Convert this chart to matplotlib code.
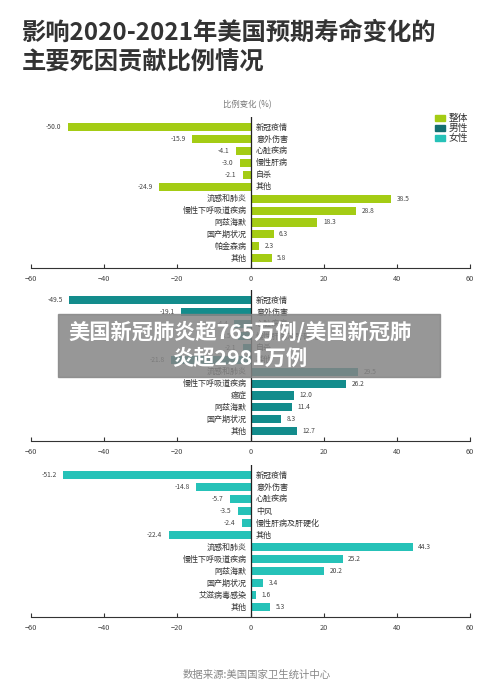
import matplotlib
matplotlib.use("Agg")
import matplotlib.pyplot as plt
from matplotlib.patches import Rectangle

plt.rcParams['font.family'] = ['Noto Sans CJK SC', 'DejaVu Sans']

# data
cats_all = ["新冠疫情", "意外伤害", "心脏疾病", "慢性肝病", "自杀", "其他",
            "流感和肺炎", "慢性下呼吸道疾病", "阿兹海默", "国产期状况", "帕金森病", "其他"]
vals_all = [-50.0, -15.9, -4.1, -3.0, -2.1, -24.9, 38.5, 28.8, 18.3, 6.3, 2.3, 5.8]

cats_male = ["新冠疫情", "意外伤害", "心脏疾病", "慢性肝病及肝硬化", "自杀", "其他",
             "流感和肺炎", "慢性下呼吸道疾病", "癌症", "阿兹海默", "国产期状况", "其他"]
vals_male = [-49.5, -19.1, -4.4, -3.5, -2.1, -21.8, 29.5, 26.2, 12.0, 11.4, 8.3, 12.7]

cats_female = ["新冠疫情", "意外伤害", "心脏疾病", "中风", "慢性肝病及肝硬化", "其他",
               "流感和肺炎", "慢性下呼吸道疾病", "阿兹海默", "国产期状况", "艾滋病毒感染", "其他"]
vals_female = [-51.2, -14.8, -5.7, -3.5, -2.4, -22.4, 44.3, 25.2, 20.2, 3.4, 1.6, 5.3]

legend_names = ["整体", "男性", "女性"]
legend_colors = ["#a4cc14", "#136f70", "#26c2b8"]
bar_colors = ["#a4cc14", "#138c8c", "#26c2b8"]
xticks = [-60, -40, -20, 0, 20, 40, 60]

W, H = 500, 692
fig = plt.figure(figsize=(W / 100, H / 100), dpi=100)

def px_axes(left, top, right, bottom):
    return fig.add_axes([left / W, 1 - bottom / H, (right - left) / W, (bottom - top) / H])

def draw_panel(top, bottom, cats, vals, color):
    ax = px_axes(31, top, 470, bottom)
    n = len(cats)
    ys = list(range(n))
    ax.barh(ys, vals, height=0.68, color=color, zorder=2)
    ax.set_xlim(-60, 60)
    ax.set_ylim(n - 1 + 0.82, -0.85)
    ax.axvline(0, color="#222222", lw=0.9, zorder=3)
    for s in ["top", "right", "left"]:
        ax.spines[s].set_visible(False)
    ax.spines["bottom"].set_color("#333333")
    ax.spines["bottom"].set_linewidth(0.8)
    ax.set_yticks([])
    ax.set_xticks(xticks)
    ax.tick_params(axis="x", direction="in", length=3, width=0.8, color="#333333",
                   labelsize=5.3, labelcolor="#444444", pad=5)
    for y, c, v in zip(ys, cats, vals):
        if v < 0:
            ax.annotate(c, (0, y), xytext=(4, 0), textcoords="offset points",
                        ha="left", va="center", fontsize=5.8, color="#333333")
            ax.annotate(f"{v:.1f}", (v, y), xytext=(-4.5, 0), textcoords="offset points",
                        ha="right", va="center", fontsize=4.8, color="#444444")
        else:
            ax.annotate(c, (0, y), xytext=(-3, 0), textcoords="offset points",
                        ha="right", va="center", fontsize=5.8, color="#333333")
            ax.annotate(f"{v:.1f}", (v, y), xytext=(4, 0), textcoords="offset points",
                        ha="left", va="center", fontsize=4.8, color="#444444")
    return ax

ax1 = draw_panel(117, 268, cats_all, vals_all, bar_colors[0])
ax2 = draw_panel(290, 441, cats_male, vals_male, bar_colors[1])
ax3 = draw_panel(465, 617, cats_female, vals_female, bar_colors[2])

# title
fig.text(22 / W, 1 - 33 / H, "影响2020-2021年美国预期寿命变化的", fontsize=17.5, fontweight="bold",
         color="#333333", ha="left", va="center")
fig.text(22 / W, 1 - 63 / H, "主要死因贡献比例情况", fontsize=17.5, fontweight="bold",
         color="#333333", ha="left", va="center")

fig.text(247 / W, 1 - 105 / H, "比例变化 (%)", fontsize=6, color="#777777", ha="center", va="center")

# legend
for i, (name, col) in enumerate(zip(legend_names, legend_colors)):
    yc = 118 + i * 10
    fig.patches.append(Rectangle((435 / W, 1 - (yc + 3) / H), 10 / W, 6 / H,
                                 transform=fig.transFigure, color=col))
    fig.text(449 / W, 1 - yc / H, name, fontsize=7, color="#333333", ha="left", va="center")

# source
fig.text(257 / W, 1 - 675 / H, "数据来源:美国国家卫生统计中心", fontsize=7.5, color="#888888",
         ha="center", va="center")

# overlay banner
fig.patches.append(Rectangle((58 / W, 1 - 377 / H), 382 / W, 63 / H, transform=fig.transFigure,
                             color="#858585", alpha=0.85, zorder=10))
fig.text(240 / W, 1 - 332 / H, "美国新冠肺炎超765万例/美国新冠肺", fontsize=15.3, fontweight="bold",
         color="white", ha="center", va="center", zorder=11)
fig.text(240 / W, 1 - 358 / H, "炎超2981万例", fontsize=15.3, fontweight="bold",
         color="white", ha="center", va="center", zorder=11)

fig.savefig("out.png", dpi=100)
